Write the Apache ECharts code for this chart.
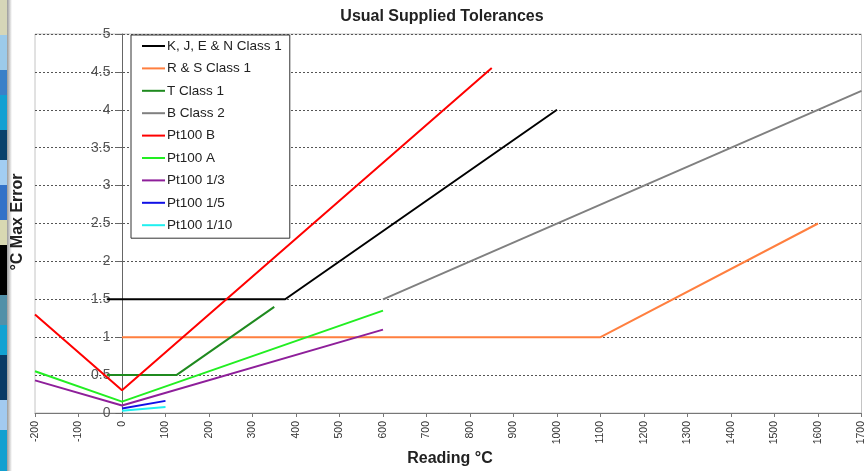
<!DOCTYPE html>
<html>
<head>
<meta charset="utf-8">
<script src="https://cdn.jsdelivr.net/npm/echarts@6/dist/echarts.min.js"></script>
<style>
  html, body { margin: 0; padding: 0; background: #fff; }
  #chart { width: 867px; height: 471px; }
</style>
</head>
<body>
<div id="chart"></div>
<script>
// Tolerance curves: [reading °C, max error °C]
const kjenClass1 = [[-35, 1.5], [375, 1.5], [1000, 4.0]];
const rsClass1 = [[0, 1.0], [1100, 1.0], [1600, 2.5]];
const tClass1 = [[-35, 0.5], [125, 0.5], [350, 1.4]];
const bClass2 = [[600, 1.5], [1700, 4.25]];
const pt100B = [[-200, 1.3], [0, 0.3], [850, 4.55]];
const pt100A = [[-200, 0.55], [0, 0.15], [600, 1.35]];
const pt100Third = [[-200, 0.43], [0, 0.1], [600, 1.1]];
const pt100Fifth = [[0, 0.06], [100, 0.16]];
const pt100Tenth = [[0, 0.03], [100, 0.08]];

const seriesNames = ['K, J, E & N Class 1', 'R & S Class 1', 'T Class 1', 'B Class 2',
  'Pt100 B', 'Pt100 A', 'Pt100 1/3', 'Pt100 1/5', 'Pt100 1/10'];
const seriesData = [kjenClass1, rsClass1, tClass1, bClass2, pt100B, pt100A, pt100Third, pt100Fifth, pt100Tenth];
const seriesColors = ['#000000', '#ff7f3f', '#1f8a1f', '#808080', '#ff0000', '#22ee22', '#8e1f9a', '#1010e6', '#20f0f0'];

// Axis ranges and tick steps
const xMin = -200, xMax = 1700, xStep = 100;
const yMin = 0, yMax = 5, yStep = 0.5;

// Plot box in pixels; the value axis is drawn where the reading is 0 °C
const plotLeft = 35, plotRight = 866;
const yAxisShift = -(plotRight - plotLeft) * (0 - xMin) / (xMax - xMin);

// Decorative side strip of the slide
const stripBands = [
  [0, 35, '#d6d6b8'], [35, 70, '#9ccaea'], [70, 95, '#3a80c8'], [95, 130, '#12a0d2'],
  [130, 160, '#0a426c'], [160, 185, '#a2cdf2'], [185, 220, '#3272c8'], [220, 245, '#d8d8b2'],
  [245, 295, '#000000'], [295, 325, '#5290a8'], [325, 355, '#12a2d2'], [355, 400, '#0a3b66'],
  [400, 430, '#a2caf0'], [430, 471, '#12a0d0']
];

const font = 'Liberation Sans, Arial, sans-serif';
const chart = echarts.init(document.getElementById('chart'), null, { renderer: 'canvas' });

const graphics = stripBands.map(b => ({
  type: 'rect', silent: true, z: 100,
  shape: { x: 0, y: b[0], width: 7, height: b[1] - b[0] },
  style: { fill: b[2] }
}));
graphics.push({
  type: 'rect', silent: true, z: 100,
  shape: { x: 7, y: 0, width: 5, height: 471 },
  style: {
    fill: new echarts.graphic.LinearGradient(0, 0, 1, 0, [
      { offset: 0, color: '#9a9a9a' }, { offset: 1, color: '#ffffff' }
    ])
  }
});
graphics.push({
  type: 'text', silent: true, z: 100,
  x: 18, y: 222, rotation: Math.PI / 2,
  style: { text: '°C Max Error', font: 'bold 16px ' + font, fill: '#222', align: 'center', verticalAlign: 'middle' }
});
graphics.push({
  type: 'text', silent: true, z: 100,
  x: 450, y: 459,
  style: { text: 'Reading °C', font: 'bold 16px ' + font, fill: '#222', align: 'center', verticalAlign: 'middle' }
});

chart.setOption({
  animation: false,
  backgroundColor: '#ffffff',
  title: {
    text: 'Usual Supplied Tolerances',
    left: 437, top: 4, textAlign: 'center',
    textStyle: { fontFamily: font, fontSize: 16, fontWeight: 'bold', color: '#222' }
  },
  legend: {
    orient: 'vertical',
    left: 131, top: 35,
    padding: [4, 8, 6, 11],
    backgroundColor: '#ffffff',
    borderColor: '#333333', borderWidth: 1,
    icon: 'rect',
    itemWidth: 23, itemHeight: 2,
    itemGap: 8.4,
    textStyle: { fontFamily: font, fontSize: 13.5, color: '#222', lineHeight: 14, padding: [0, 0, 0, -3] },
    data: seriesNames
  },
  grid: {
    left: plotLeft, right: 867 - plotRight, top: 34, bottom: 58,
    show: true, borderColor: '#c4c4c4', borderWidth: 1, backgroundColor: '#ffffff'
  },
  xAxis: {
    type: 'value',
    min: xMin, max: xMax, interval: xStep,
    axisLine: { show: true, lineStyle: { color: '#777', width: 1 } },
    axisTick: { show: true, length: 4, lineStyle: { color: '#777' } },
    axisLabel: { rotate: 90, fontFamily: font, fontSize: 10.5, color: '#333', margin: 8, formatter: v => String(v) },
    splitLine: { show: false }
  },
  yAxis: {
    type: 'value',
    min: yMin, max: yMax, interval: yStep,
    offset: yAxisShift,
    axisLine: { show: true, onZero: false, lineStyle: { color: '#666', width: 1 } },
    axisTick: { show: true, length: 7, lineStyle: { color: '#666' } },
    axisLabel: { fontFamily: font, fontSize: 14, color: '#555', margin: 12 },
    splitLine: { show: true, lineStyle: { color: '#555', width: 1, type: [2, 2] } }
  },
  graphic: graphics,
  series: seriesNames.map((name, i) => ({
    name: name,
    type: 'line',
    data: seriesData[i],
    color: seriesColors[i],
    symbol: 'none',
    lineStyle: { width: 2, color: seriesColors[i] },
    z: 3
  }))
});
</script>
</body>
</html>
